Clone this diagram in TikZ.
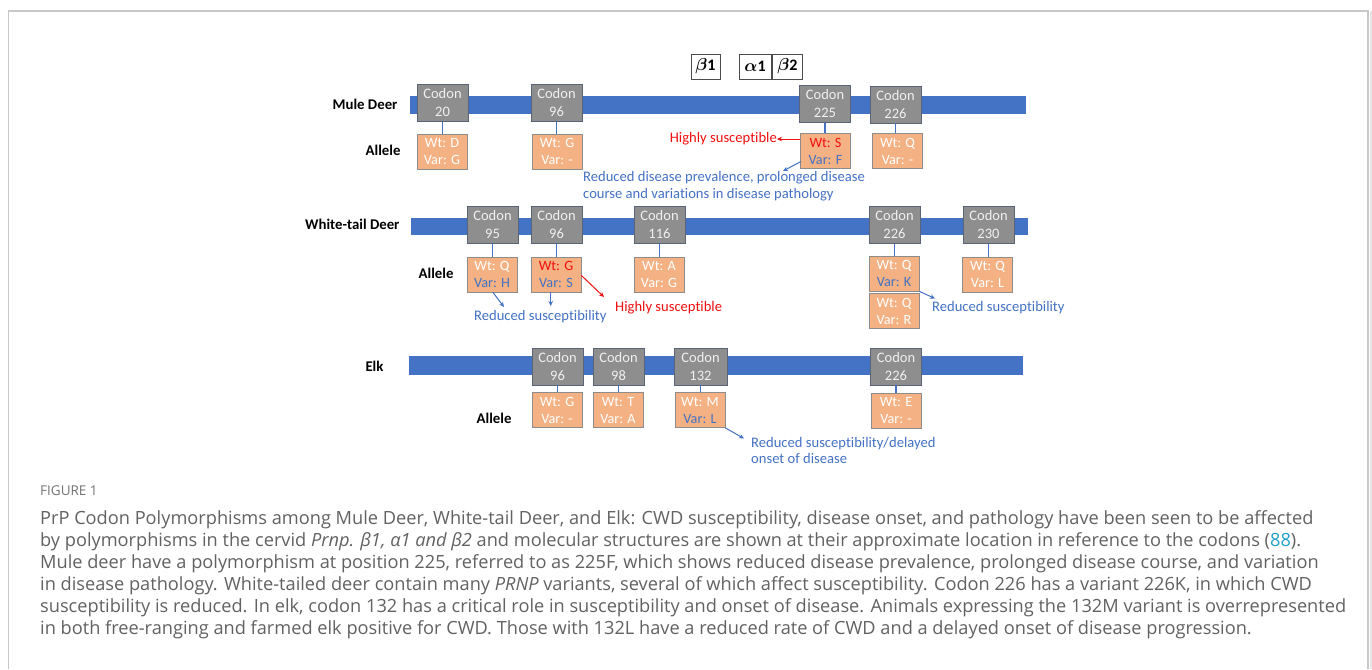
\documentclass[tikz,border=0pt]{standalone}
\usepackage{amsmath}
\usepackage{fontspec}
\setmainfont[Ligatures=NoCommon]{Carlito}
\newfontfamily\capfont[Ligatures=NoCommon]{Open Sans}
\usetikzlibrary{arrows.meta}
\definecolor{barblue}{HTML}{4472C4}
\definecolor{txtblue}{HTML}{4472C4}
\definecolor{codongray}{HTML}{8E8E8E}
\definecolor{codonedge}{HTML}{5A6478}
\definecolor{alleleor}{HTML}{F4B183}
\definecolor{alleleedge}{HTML}{8C8C8C}
\definecolor{hired}{HTML}{F20F0F}
\definecolor{captxt}{HTML}{626262}
\definecolor{capref}{HTML}{1FA0C8}
\definecolor{framegray}{HTML}{C8C8C8}
\begin{document}
\begin{tikzpicture}[x=1pt,y=-1pt,
  bar/.style={fill=barblue,draw=none,inner sep=0pt,minimum height=18pt},
  codon/.style={fill=codongray,draw=codonedge,line width=0.9pt,minimum width=51pt,minimum height=37pt,inner sep=0pt,align=center,text=white!94!black,font=\fontsize{14.5}{18}\selectfont},
  allele/.style={fill=alleleor,draw=alleleedge,line width=0.8pt,minimum width=50pt,minimum height=35pt,inner sep=0pt,align=center,text=white,font=\fontsize{14.2}{17}\selectfont},
  greek/.style={draw=black!70,line width=0.6pt,fill=white,minimum height=25pt,inner sep=0pt,font=\fontsize{16}{18}\selectfont},
  link/.style={draw=barblue,line width=1.3pt},
  species/.style={anchor=east,font=\fontsize{14.8}{17}\selectfont\bfseries,text=black},
  note/.style={font=\fontsize{14.6}{16.5}\selectfont,inner sep=0pt},
  bluearrow/.style={draw=txtblue,line width=1pt,-{Stealth[length=5pt,width=4.5pt]}},
  redarrow/.style={draw=hired,line width=1pt,-{Stealth[length=5pt,width=4.5pt]}},
  capline/.style={anchor=west,inner sep=0pt,text=captxt,font=\capfont\fontsize{18.2}{21}\selectfont}
]
\useasboundingbox (0,0) rectangle (1372,669);
\fill[white] (0,0) rectangle (1372,669);
% frame
\draw[framegray,line width=1.4pt] (8.5,669) -- (8.5,11) -- (1368,11) -- (1368,669);
\draw[black!10,line width=2pt] (1370.5,11) -- (1370.5,669);

% Greek structure boxes
\node[greek,minimum width=29pt] (b1) at (705.5,66.5) {$\boldsymbol{\beta}\mathbf{1}$};
\node[greek,minimum width=32pt] (a1) at (755,66.5) {$\boldsymbol{\alpha}\mathbf{1}$};
\node[greek,minimum width=30pt] (b2) at (787.5,66.5) {$\boldsymbol{\beta}\mathbf{2}$};

% ---------------- Mule deer ----------------
\node[bar,minimum width=616pt] (mbar) at (718,105) {};
\node[species] (mlab) at (401,104) {Mule Deer};
\node[species] (mall) at (404,150) {Allele};
\node[codon] (m20) at (442.5,103) {Codon\\20};
\node[codon] (m96) at (556.5,103) {Codon\\96};
\node[codon] (m225) at (825,104) {Codon\\225};
\node[codon] (m226) at (895.5,104.5) {Codon\\226};
\node[allele] (am20) at (442,151.5) {Wt: D\\Var: G};
\node[allele] (am96) at (557,151.5) {Wt: G\\Var: -};
\node[allele] (am225) at (825.5,151) {\textcolor{hired}{Wt: S}\\\textcolor{txtblue}{Var: F}};
\node[allele] (am226) at (897.5,151) {Wt: Q\\Var: -};
\draw[link] (m20.south) -- (m20.south |- am20.north);
\draw[link] (m96.south) -- (m96.south |- am96.north);
\draw[link] (m225.south) -- (m225.south |- am225.north);
\draw[link] (m226.south) -- (m226.south |- am226.north);
\node[note,anchor=east,text=hired] (mhs) at (777,139) {Highly susceptible};
\draw[redarrow] (am225.west |- mhs.east) -- (mhs.east);
\node[note,anchor=north west,align=left,text=txtblue] (mred) at (583,171.5)
  {Reduced disease prevalence, prolonged disease\\course and variations in disease pathology};
\coordinate (mredtip) at (783,171);
\coordinate (mstart) at (801,161.5);
\draw[bluearrow] (mstart) -- (mredtip);

% ---------------- White-tail deer ----------------
\node[bar,minimum width=617pt,minimum height=17pt] (wbar) at (719.5,226.5) {};
\node[species] (wlab) at (403,224) {White-tail Deer};
\node[species] (wall) at (457,273) {Allele};
\node[codon] (w95) at (492.5,224.5) {Codon\\95};
\node[codon] (w96) at (556.5,224.5) {Codon\\96};
\node[codon] (w116) at (659.5,224.5) {Codon\\116};
\node[codon] (w226) at (894.5,225) {Codon\\226};
\node[codon] (w230) at (988.5,225) {Codon\\230};
\node[allele] (aw95) at (492,274.5) {Wt: Q\\\textcolor{txtblue}{Var: H}};
\node[allele] (aw96) at (556,274.5) {\textcolor{hired}{Wt: G}\\\textcolor{txtblue}{Var: S}};
\node[allele] (aw116) at (659,274.5) {Wt: A\\Var: G};
\node[allele] (aw226) at (894,273.5) {Wt: Q\\\textcolor{txtblue}{Var: K}};
\node[allele] (aw226b) at (894,311) {Wt: Q\\Var: R};
\node[allele] (aw230) at (987.5,274.5) {Wt: Q\\Var: L};
\draw[link] (w95.south) -- (w95.south |- aw95.north);
\draw[link] (w96.south) -- (w96.south |- aw96.north);
\draw[link] (w116.south) -- (w116.south |- aw116.north);
\draw[link] (w226.south) -- (w226.south |- aw226.north);
\draw[link] (w230.south) -- (w230.south |- aw230.north);
\node[note,anchor=west,text=txtblue] (wrs1) at (474,317) {Reduced susceptibility};
\node[note,anchor=west,text=hired] (whs) at (615,307.5) {Highly susceptible};
\node[note,anchor=west,text=txtblue] (wrs2) at (932,307.5) {Reduced susceptibility};
\coordinate (w95tip) at (504,307);
\coordinate (w96tip) at (550.7,306);
\coordinate (w96red) at (604,297);
\coordinate (w226tip) at (935,298.5);
\draw[bluearrow] ([xshift=1pt]aw95.south) -- (w95tip);
\draw[bluearrow] ([xshift=-5.3pt]aw96.south) -- (w96tip);
\draw[redarrow] ([yshift=-1pt]aw96.east) -- (w96red);
\draw[bluearrow] (aw226.south east) -- (w226tip);

% ---------------- Elk ----------------
\node[bar,minimum width=614pt,minimum height=19pt] (ebar) at (716,365) {};
\node[species] (elab) at (387,366) {Elk};
\node[species] (eall) at (515,418) {Allele};
\node[codon] (e96) at (557.5,366.5) {Codon\\96};
\node[codon] (e98) at (618.5,366.5) {Codon\\98};
\node[codon,minimum width=53pt] (e132) at (700.5,366.5) {Codon\\132};
\node[codon] (e226) at (896,366.5) {Codon\\226};
\node[allele] (ae96) at (557,410) {Wt: G\\Var: -};
\node[allele] (ae98) at (618,410) {Wt: T\\Var: A};
\node[allele] (ae132) at (700,410) {Wt: M\\\textcolor{txtblue}{Var: L}};
\node[allele] (ae226) at (896,410.5) {Wt: E\\Var: -};
\draw[link] (e96.south) -- (e96.south |- ae96.north);
\draw[link] (e98.south) -- (e98.south |- ae98.north);
\draw[link] (e132.south) -- (e132.south |- ae132.north);
\draw[link] (e226.south) -- (e226.south |- ae226.north);
\node[note,anchor=north west,align=left,text=txtblue] (ered) at (751,437)
  {Reduced susceptibility/delayed\\onset of disease};
\coordinate (e132tip) at (744,438.5);
\draw[bluearrow] (ae132.south east) -- (e132tip);

% ---------------- Caption ----------------
\node[anchor=west,inner sep=0pt,text=black!55,font=\capfont\fontsize{13.5}{15}\selectfont] (figlab) at (40,491) {FIGURE 1};
\node[capline] (c1) at (40,520) {PrP Codon Polymorphisms among Mule Deer, White-tail Deer, and Elk: CWD susceptibility, disease onset, and pathology have been seen to be affected};
\node[capline] (c2) at (40,542) {by polymorphisms in the cervid \textit{Prnp. β1, α1 and β2} and molecular structures are shown at their approximate location in reference to the codons (\textcolor{capref}{88}).};
\node[capline] (c3) at (40,564) {Mule deer have a polymorphism at position 225, referred to as 225F, which shows reduced disease prevalence, prolonged disease course, and variation};
\node[capline] (c4) at (40,586) {in disease pathology. White-tailed deer contain many \textit{PRNP} variants, several of which affect susceptibility. Codon 226 has a variant 226K, in which CWD};
\node[capline] (c5) at (40,608) {susceptibility is reduced. In elk, codon 132 has a critical role in susceptibility and onset of disease. Animals expressing the 132M variant is overrepresented};
\node[capline] (c6) at (40,630) {in both free-ranging and farmed elk positive for CWD. Those with 132L have a reduced rate of CWD and a delayed onset of disease progression.};
\end{tikzpicture}
\end{document}
